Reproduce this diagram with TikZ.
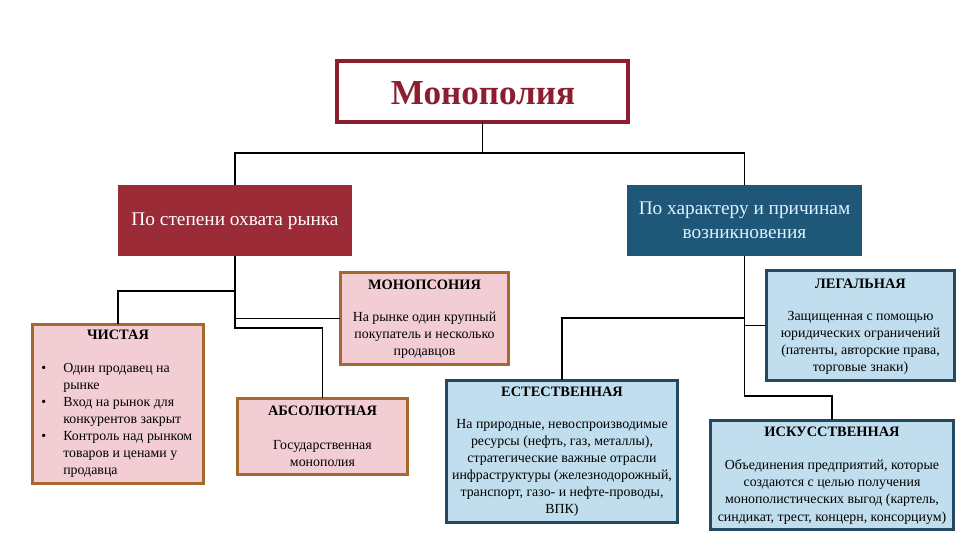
\documentclass[tikz,border=0pt]{standalone}
\usepackage{fontspec}
\setmainfont{Liberation Serif}
\usetikzlibrary{positioning}
\definecolor{monred}{RGB}{140,30,48}
\definecolor{leftred}{RGB}{155,43,55}
\definecolor{rightblue}{RGB}{30,87,120}
\definecolor{lightcyan}{RGB}{222,242,252}
\definecolor{pinkfill}{RGB}{242,206,212}
\definecolor{brownline}{RGB}{165,105,45}
\definecolor{bluefill}{RGB}{192,222,237}
\definecolor{blueline}{RGB}{35,72,98}
\def\px{0.569pt}
\def\bodyfont{\fontsize{7.9}{9.7}\selectfont}
\def\headfont{\fontsize{8.2}{10}\selectfont\bfseries}

\begin{document}
\begin{tikzpicture}[x=0.02cm,y=-0.02cm,
  box/.style={inner sep=0pt,outer sep=0pt},
  pinkbox/.style={box,draw=brownline,fill=pinkfill,line width=1.7pt},
  bluebox/.style={box,draw=blueline,fill=bluefill,line width=1.7pt},
  head/.style={font=\headfont,inner sep=0pt},
  body/.style={font=\bodyfont,align=center,inner sep=0pt},
  link/.style={line width=0.6pt}]

\useasboundingbox (0,0) rectangle (960,540);

\node[box,draw=monred,fill=white,line width=1.9pt,minimum width=291*\px,minimum height=61*\px] (mono) at (482.5,91.5) {};
\node[text=monred,font=\fontsize{20}{24}\selectfont\bfseries] (monotext) at (483,93) {Монополия};

\node[box,fill=leftred,minimum width=234*\px,minimum height=71*\px] (scope) at (235,220.5) {};
\node[text=white,font=\fontsize{11}{13}\selectfont] (scopetext) at (235,221) {По степени охвата рынка};

\node[box,fill=rightblue,minimum width=235*\px,minimum height=71*\px] (cause) at (744.5,220.5) {};
\node[text=lightcyan,font=\fontsize{11}{13.5}\selectfont,align=center] (causetext) at (744.5,220) {По характеру и причинам\\возникновения};

\node[pinkbox,minimum width=169*\px,minimum height=93*\px] (monopsony) at (424.5,318.5) {};
\node[head] (monopsonyhead) at (424.5,285) {МОНОПСОНИЯ};
\node[body] (monopsonybody) at (424.5,335) {На рынке один крупный\\покупатель и несколько\\продавцов};

\node[pinkbox,minimum width=172*\px,minimum height=160*\px] (pure) at (118,404) {};
\node[head] (purehead) at (118,335) {ЧИСТАЯ};
\node[font=\bodyfont,inner sep=0pt,anchor=west] (purebody) at (41,420) {%
  \begin{tabular}{@{}p{12.5pt}@{}l@{}}
  \textbullet & Один продавец на\\
              & рынке\\
  \textbullet & Вход на рынок для\\
              & конкурентов закрыт\\
  \textbullet & Контроль над рынком\\
              & товаров и ценами у\\
              & продавца
  \end{tabular}};

\node[pinkbox,minimum width=171*\px,minimum height=77*\px] (absolute) at (322.5,436.5) {};
\node[head] (absolutehead) at (322.5,411) {АБСОЛЮТНАЯ};
\node[body] (absolutebody) at (322.5,454) {Государственная\\монополия};

\node[bluebox,minimum width=189*\px,minimum height=111*\px] (legal) at (860.5,325.5) {};
\node[head] (legalhead) at (860.5,284) {ЛЕГАЛЬНАЯ};
\node[body] (legalbody) at (860.5,343) {Защищенная с помощью\\юридических ограничений\\(патенты, авторские права,\\торговые знаки)};

\node[bluebox,minimum width=232*\px,minimum height=143*\px] (natural) at (562,451.5) {};
\node[head] (naturalhead) at (562,392) {ЕСТЕСТВЕННАЯ};
\node[body] (naturalbody) at (562,468) {На природные, невоспроизводимые\\ресурсы (нефть, газ, металлы),\\стратегические важные отрасли\\инфраструктуры (железнодорожный,\\транспорт, газо- и нефте-проводы,\\ВПК)};

\node[bluebox,minimum width=244*\px,minimum height=110*\px] (artificial) at (832,475) {};
\node[head] (artificialhead) at (832,432) {ИСКУССТВЕННАЯ};
\node[body] (artificialbody) at (832,492) {Объединения предприятий, которые\\создаются с целью получения\\монополистических выгод (картель,\\синдикат, трест, концерн, консорциум)};

\coordinate (topfork) at (482.5,153);
\coordinate (leftfork) at (235,291);
\coordinate (leftend) at (235,328);
\coordinate (rightfork) at (744.5,318);
\coordinate (rightend) at (744.5,396);

\draw[link] (mono.south) -- (topfork);
\draw[link] (scope.north) |- (topfork) -| (cause.north);

\draw[link] (scope.south) -- (leftend) -| (absolute.north);
\draw[link] (leftfork) -| (pure.north);
\draw[link] (monopsony.west) -- (monopsony.west -| leftfork);

\draw[link] (cause.south) -- (rightend) -| (artificial.north);
\draw[link] (rightfork) -| (natural.north);
\draw[link] (legal.west) -- (legal.west -| rightfork);
\end{tikzpicture}
\end{document}
